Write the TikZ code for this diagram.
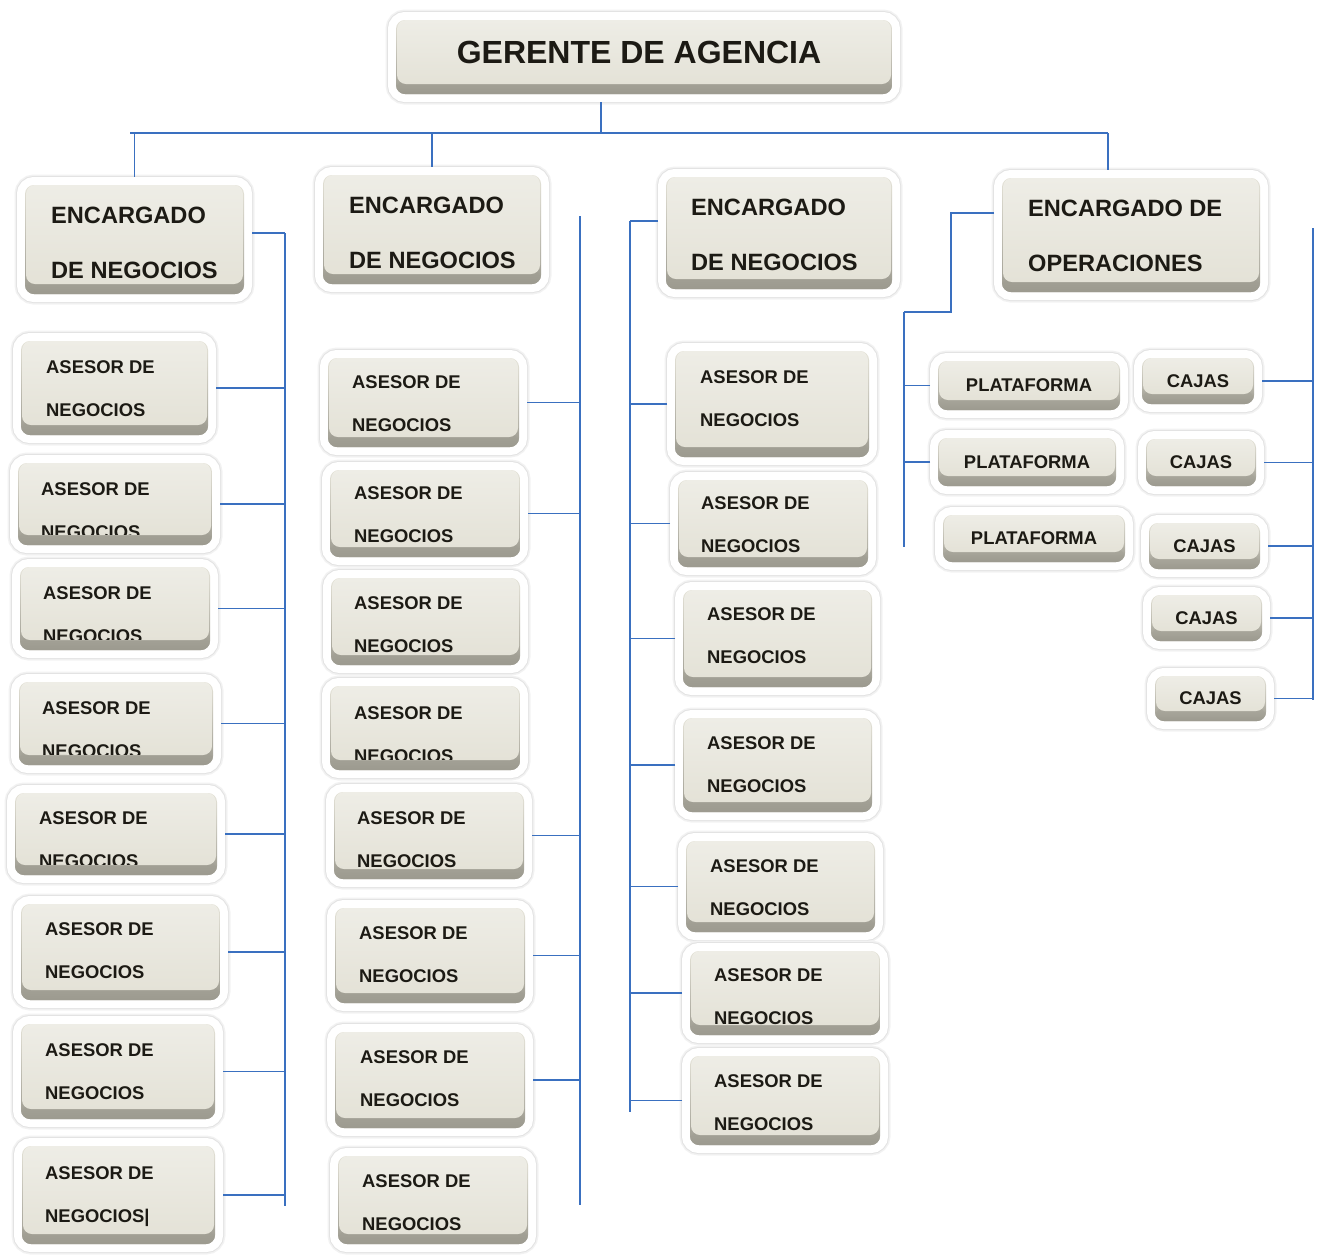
\documentclass[tikz,border=0pt]{standalone}
\usepackage{fontspec}
\setmainfont{Liberation Sans}

\definecolor{azul}{RGB}{58,112,192}
\definecolor{caraA}{RGB}{238,237,230}
\definecolor{caraB}{RGB}{228,226,215}
\definecolor{biselA}{RGB}{206,204,193}
\definecolor{biselB}{RGB}{156,154,143}
\definecolor{tinta}{RGB}{28,26,20}

\tikzset{
  frente/.style={top color=caraA, bottom color=caraB, rounded corners=9pt},
  caja/.style={rounded corners=9pt, inner sep=0pt, outer sep=8pt, top color=caraB, bottom color=biselB,
    preaction={draw=black!5, line width=21pt},
    preaction={draw=black!11, line width=18pt},
    preaction={draw=white, line width=16pt},
    path picture={
      \path[top color=biselA, bottom color=biselB] ([yshift=13pt]path picture bounding box.south west)
        rectangle (path picture bounding box.south east);
      \path[frente] ([xshift=1pt]path picture bounding box.north west)
        rectangle ([shift={(-1pt,10pt)}]path picture bounding box.south east);}},
  letra/.style={font=\fontsize{18.4}{43}\selectfont\bfseries, text=tinta},
  texto/.style={letra, align=left, anchor=base west, inner sep=0pt},
  titulo/.style={texto, font=\fontsize{23.6}{55}\selectfont\bfseries},
  linea/.style={azul, line width=1.6pt}
}

\begin{document}
\begin{tikzpicture}[x=1pt, y=-1pt]
  \useasboundingbox (0,0) rectangle (1328,1254);

  % Gerente
  \node[caja, minimum width=496pt, minimum height=74pt] (g) at (644,57) {};
  \node[titulo, anchor=base, font=\fontsize{32}{38}\selectfont\bfseries] (tg) at (639,63) {GERENTE DE AGENCIA};

  % Encargados (ancla en la base de la ultima linea)
  \node[caja, minimum width=219pt, minimum height=109pt] (e1) at (134.5,239.5) {};
  \node[titulo] (te1) at (51,278) {ENCARGADO\\DE NEGOCIOS};
  \node[caja, minimum width=218pt, minimum height=109pt] (e2) at (432,229.5) {};
  \node[titulo] (te2) at (349,268) {ENCARGADO\\DE NEGOCIOS};
  \node[caja, minimum width=226pt, minimum height=112pt] (e3) at (779,233) {};
  \node[titulo] (te3) at (691,270) {ENCARGADO\\DE NEGOCIOS};
  \node[caja, minimum width=258pt, minimum height=114pt] (e4) at (1131,235) {};
  \node[titulo] (te4) at (1028,271) {ENCARGADO DE\\OPERACIONES};

  % Asesores, columna 1
  \node[caja, minimum width=187pt, minimum height=94pt] (a1) at (114.5,388) {};
  \node[texto] (ta1) at (46,416) {ASESOR DE\\NEGOCIOS};
  \node[caja, minimum width=194pt, minimum height=82pt] (a2) at (115,504) {};
  \begin{scope}
    \clip ([yshift=-8pt]a2.north west) rectangle ([yshift=19pt]a2.south east);
    \node[texto] (ta2) at (41,538) {ASESOR DE\\NEGOCIOS};
  \end{scope}
  \node[caja, minimum width=190pt, minimum height=83pt] (a3) at (115,608.5) {};
  \begin{scope}
    \clip ([yshift=-8pt]a3.north west) rectangle ([yshift=19pt]a3.south east);
    \node[texto] (ta3) at (43,642) {ASESOR DE\\NEGOCIOS};
  \end{scope}
  \node[caja, minimum width=194pt, minimum height=83pt] (a4) at (116,723.5) {};
  \begin{scope}
    \clip ([yshift=-8pt]a4.north west) rectangle ([yshift=19pt]a4.south east);
    \node[texto] (ta4) at (42,757) {ASESOR DE\\NEGOCIOS};
  \end{scope}
  \node[caja, minimum width=202pt, minimum height=82pt] (a5) at (116,834) {};
  \begin{scope}
    \clip ([yshift=-8pt]a5.north west) rectangle ([yshift=19pt]a5.south east);
    \node[texto] (ta5) at (39,867) {ASESOR DE\\NEGOCIOS};
  \end{scope}
  \node[caja, minimum width=199pt, minimum height=96pt] (a6) at (120.5,952) {};
  \node[texto] (ta6) at (45,978) {ASESOR DE\\NEGOCIOS};
  \node[caja, minimum width=194pt, minimum height=95pt] (a7) at (118,1071.5) {};
  \node[texto] (ta7) at (45,1099) {ASESOR DE\\NEGOCIOS};
  \node[caja, minimum width=193pt, minimum height=98pt] (a8) at (118.5,1195) {};
  \node[texto] (ta8) at (45,1222) {ASESOR DE\\NEGOCIOS|};

  % Asesores, columna 2
  \node[caja, minimum width=191pt, minimum height=89pt] (b1) at (423.5,402.5) {};
  \node[texto] (tb1) at (352,431) {ASESOR DE\\NEGOCIOS};
  \node[caja, minimum width=190pt, minimum height=87pt] (b2) at (425,513.5) {};
  \node[texto] (tb2) at (354,542) {ASESOR DE\\NEGOCIOS};
  \node[caja, minimum width=189pt, minimum height=87pt] (b3) at (425.5,621.5) {};
  \node[texto] (tb3) at (354,652) {ASESOR DE\\NEGOCIOS};
  \node[caja, minimum width=190pt, minimum height=84pt] (b4) at (425,728) {};
  \begin{scope}
    \clip ([yshift=-8pt]b4.north west) rectangle ([yshift=19pt]b4.south east);
    \node[texto] (tb4) at (354,762) {ASESOR DE\\NEGOCIOS};
  \end{scope}
  \node[caja, minimum width=190pt, minimum height=87pt] (b5) at (429,835.5) {};
  \begin{scope}
    \clip ([yshift=-8pt]b5.north west) rectangle ([yshift=19pt]b5.south east);
    \node[texto] (tb5) at (357,867) {ASESOR DE\\NEGOCIOS};
  \end{scope}
  \node[caja, minimum width=190pt, minimum height=95pt] (b6) at (430,955.5) {};
  \node[texto] (tb6) at (359,982) {ASESOR DE\\NEGOCIOS};
  \node[caja, minimum width=190pt, minimum height=96pt] (b7) at (430,1080) {};
  \node[texto] (tb7) at (360,1106) {ASESOR DE\\NEGOCIOS};
  \node[caja, minimum width=190pt, minimum height=88pt] (b8) at (433,1200) {};
  \node[texto] (tb8) at (362,1230) {ASESOR DE\\NEGOCIOS};

  % Asesores, columna 3
  \node[caja, minimum width=194pt, minimum height=106pt] (c1) at (772,404) {};
  \node[texto] (tc1) at (700,426) {ASESOR DE\\NEGOCIOS};
  \node[caja, minimum width=190pt, minimum height=87pt] (c2) at (773,523.5) {};
  \node[texto] (tc2) at (701,552) {ASESOR DE\\NEGOCIOS};
  \node[caja, minimum width=189pt, minimum height=97pt] (c3) at (777.5,638.5) {};
  \node[texto] (tc3) at (707,663) {ASESOR DE\\NEGOCIOS};
  \node[caja, minimum width=189pt, minimum height=94pt] (c4) at (777.5,765) {};
  \node[texto] (tc4) at (707,792) {ASESOR DE\\NEGOCIOS};
  \node[caja, minimum width=189pt, minimum height=91pt] (c5) at (780.5,886.5) {};
  \node[texto] (tc5) at (710,915) {ASESOR DE\\NEGOCIOS};
  \node[caja, minimum width=190pt, minimum height=84pt] (c6) at (785,993) {};
  \begin{scope}
    \clip ([yshift=-8pt]c6.north west) rectangle ([yshift=19pt]c6.south east);
    \node[texto] (tc6) at (714,1024) {ASESOR DE\\NEGOCIOS};
  \end{scope}
  \node[caja, minimum width=190pt, minimum height=89pt] (c7) at (785,1100.5) {};
  \node[texto] (tc7) at (714,1130) {ASESOR DE\\NEGOCIOS};

  % Operaciones
  \node[caja, letra, minimum width=182pt, minimum height=49pt] (p1) at (1029,385.5) {PLATAFORMA};
  \node[caja, letra, minimum width=178pt, minimum height=48pt] (p2) at (1027,462) {PLATAFORMA};
  \node[caja, letra, minimum width=182pt, minimum height=47pt] (p3) at (1034,538.5) {PLATAFORMA};
  \node[caja, letra, minimum width=112pt, minimum height=46pt] (k1) at (1198,381) {CAJAS};
  \node[caja, letra, minimum width=110pt, minimum height=47pt] (k2) at (1201,462.5) {CAJAS};
  \node[caja, letra, minimum width=111pt, minimum height=46pt] (k3) at (1204.5,546) {CAJAS};
  \node[caja, letra, minimum width=111pt, minimum height=46pt] (k4) at (1206.5,618) {CAJAS};
  \node[caja, letra, minimum width=111pt, minimum height=45pt] (k5) at (1210.5,698.5) {CAJAS};

  % Barras
  \coordinate (t) at (601,133);
  \coordinate (hI) at (130,133);
  \coordinate (hD) at (1108,133);
  \coordinate (r1a) at (285,233);  \coordinate (r1b) at (285,1206);
  \coordinate (r2a) at (580,216);  \coordinate (r2b) at (580,1205);
  \coordinate (r3a) at (630,221);  \coordinate (r3b) at (630,1112);
  \coordinate (r4a) at (904,312);  \coordinate (r4b) at (904,547);
  \coordinate (r5a) at (1313,228); \coordinate (r5b) at (1313,700);
  \coordinate (q) at (951,213);

  \draw[linea] (g.south -| t) -- (t);
  \draw[linea] (hI) -- (hD);
  \draw[linea] (e1.north |- hI) -- (e1.north);
  \draw[linea] (e2.north |- hI) -- (e2.north);
  \draw[linea] (hD) -- (hD |- e4.north);

  \draw[linea] (r1a) -- (r1b);
  \draw[linea] (r2a) -- (r2b);
  \draw[linea] (r3a) -- (r3b);
  \draw[linea] (r4a) -- (r4b);
  \draw[linea] (r5a) -- (r5b);

  % Conectores columna 1
  \draw[linea] (e1.east |- r1a) -- (r1a);
  \draw[linea] (a1.east) -- (a1.east -| r1a);
  \draw[linea] (a2.east) -- (a2.east -| r1a);
  \draw[linea] (a3.east) -- (a3.east -| r1a);
  \draw[linea] (a4.east) -- (a4.east -| r1a);
  \draw[linea] (a5.east) -- (a5.east -| r1a);
  \draw[linea] (a6.east) -- (a6.east -| r1a);
  \draw[linea] (a7.east) -- (a7.east -| r1a);
  \draw[linea] (a8.east) -- (a8.east -| r1a);

  % Conectores columna 2
  \draw[linea] (b1.east) -- (b1.east -| r2a);
  \draw[linea] (b2.east) -- (b2.east -| r2a);
  \draw[linea] (b5.east) -- (b5.east -| r2a);
  \draw[linea] (b6.east) -- (b6.east -| r2a);
  \draw[linea] (b7.east) -- (b7.east -| r2a);

  % Conectores columna 3
  \draw[linea] (e3.west |- r3a) -- (r3a);
  \draw[linea] (c1.west) -- (c1.west -| r3a);
  \draw[linea] (c2.west) -- (c2.west -| r3a);
  \draw[linea] (c3.west) -- (c3.west -| r3a);
  \draw[linea] (c4.west) -- (c4.west -| r3a);
  \draw[linea] (c5.west) -- (c5.west -| r3a);
  \draw[linea] (c6.west) -- (c6.west -| r3a);
  \draw[linea] (c7.west) -- (c7.west -| r3a);

  % Conectores operaciones
  \draw[linea] (q -| e4.west) -- (q) |- (r4a);
  \draw[linea] (p1.west) -- (p1.west -| r4a);
  \draw[linea] (p2.west) -- (p2.west -| r4a);
  \draw[linea] (k1.east) -- (k1.east -| r5a);
  \draw[linea] (k2.east) -- (k2.east -| r5a);
  \draw[linea] (k3.east) -- (k3.east -| r5a);
  \draw[linea] (k4.east) -- (k4.east -| r5a);
  \draw[linea] (k5.east) -- (k5.east -| r5a);

\end{tikzpicture}
\end{document}
